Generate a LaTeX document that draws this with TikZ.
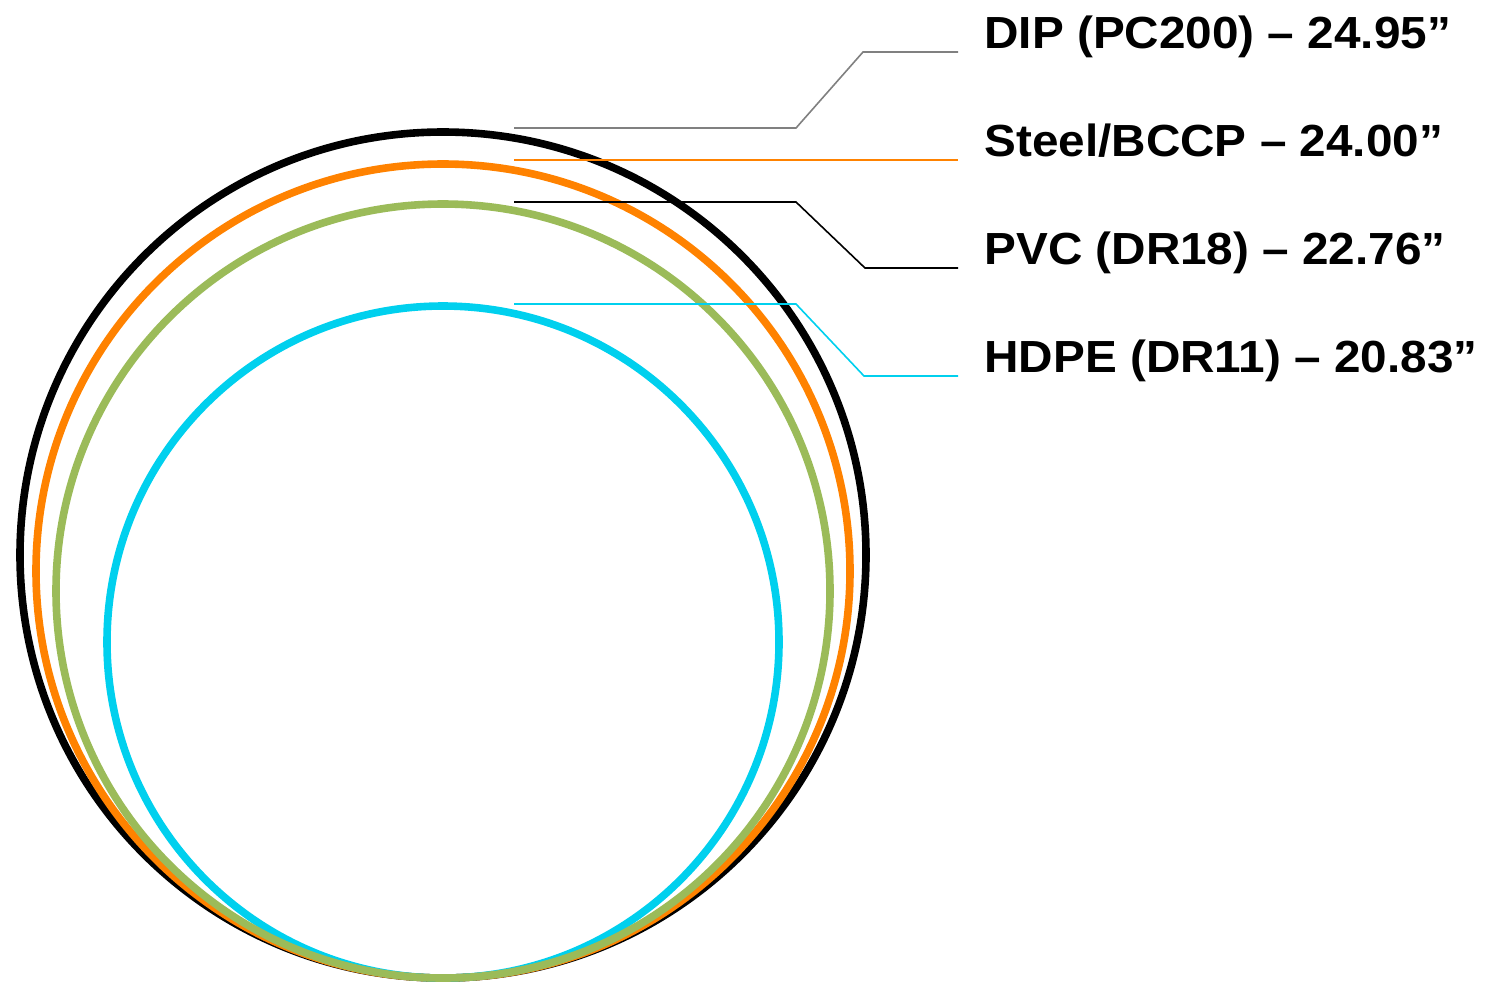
\documentclass[tikz,border=0pt]{standalone}
\usepackage{fontspec}
\setmainfont{Liberation Sans}
\newfontfamily\lblfont[FakeStretch=1.06]{Liberation Sans}
\usetikzlibrary{positioning}
\definecolor{pipeorange}{HTML}{FF8200}
\definecolor{pipegreen}{HTML}{9BBB59}
\definecolor{pipecyan}{HTML}{00D0EE}
\definecolor{leadgray}{HTML}{808080}
\begin{document}
\begin{tikzpicture}[x=0.5pt,y=-0.5pt, ring/.style={line width=3.8pt}, lead/.style={line width=0.8pt}, lbl/.style={anchor=base west,inner sep=0pt,font=\lblfont\fontsize{22.5}{27}\selectfont\bfseries}]
\useasboundingbox (0,0) rectangle (1486,982);
\draw[ring,black] (443,555) circle[radius=211.5pt];
\draw[ring,pipeorange] (443,571) circle[radius=203.5pt];
\draw[ring,pipecyan] (443,642) circle[radius=168pt];
\draw[ring,pipegreen] (443,591) circle[radius=193.5pt];
\coordinate (dipa) at (514,128);\coordinate (dipb) at (796,128);\coordinate (dipc) at (863,52);\coordinate (dipd) at (958,52);
\coordinate (stla) at (514,160);\coordinate (stld) at (958,160);
\coordinate (pvca) at (514,202);\coordinate (pvcb) at (796,202);\coordinate (pvcc) at (865,268);\coordinate (pvcd) at (958,268);
\coordinate (hdpa) at (514,304);\coordinate (hdpb) at (796,304);\coordinate (hdpc) at (864,376);\coordinate (hdpd) at (958,376);
\node[lbl] (dip) at ([xshift=13pt,yshift=2pt]dipd) {DIP (PC200) – 24.95”};
\node[lbl] (stl) at ([xshift=13pt,yshift=2pt]stld) {Steel/BCCP – 24.00”};
\node[lbl] (pvc) at ([xshift=13pt,yshift=2pt]pvcd) {PVC (DR18) – 22.76”};
\node[lbl] (hdp) at ([xshift=13pt,yshift=2pt]hdpd) {HDPE (DR11) – 20.83”};
\draw[lead,leadgray] (dipa)--(dipb)--(dipc)--(dipd);
\draw[lead,pipeorange] (stla)--(stld);
\draw[lead,black] (pvca)--(pvcb)--(pvcc)--(pvcd);
\draw[lead,pipecyan] (hdpa)--(hdpb)--(hdpc)--(hdpd);
\end{tikzpicture}
\end{document}
